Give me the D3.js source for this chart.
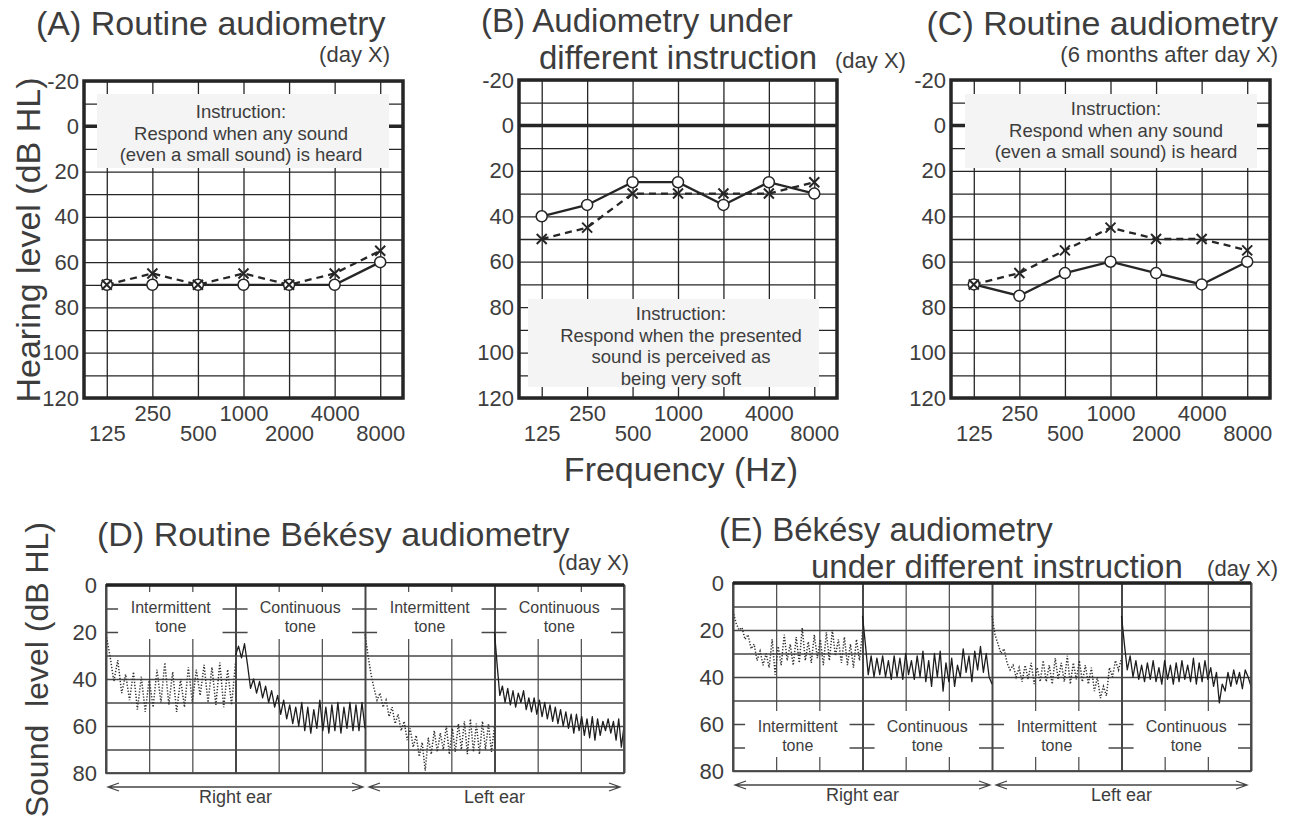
<!DOCTYPE html>
<html>
<head>
<meta charset="utf-8">
<script src="https://cdn.jsdelivr.net/npm/d3@7"></script>
<style>
  body { margin: 0; background: #fff; }
  svg { display: block; font-family: "Liberation Sans", Arial, Helvetica, sans-serif; }
</style>
</head>
<body>
<svg id="fig" width="1290" height="818"></svg>
<script>
// ---- audiogram data (dB HL) ----
const freqs = [125, 250, 500, 1000, 2000, 4000, 8000];
const freqRow1 = [250, 1000, 4000];
const freqRow2 = [125, 500, 2000, 8000];
const hlTicks = [-20, 0, 20, 40, 60, 80, 100, 120];
const hlGrid = [-20, -10, 0, 10, 20, 30, 40, 50, 60, 70, 80, 90, 100, 110, 120];

const aCircle = [70, 70, 70, 70, 70, 70, 60];
const aCross  = [70, 65, 70, 65, 70, 65, 55];
const bCircle = [40, 35, 25, 25, 35, 25, 30];
const bCross  = [50, 45, 30, 30, 30, 30, 25];
const cCircle = [70, 75, 65, 60, 65, 70, 60];
const cCross  = [70, 65, 55, 45, 50, 50, 55];

const noteRoutine = ["Instruction:", "Respond when any sound", "(even a small sound) is heard"];
const noteSoft = ["Instruction:", "Respond when the presented", "sound is perceived as", "being very soft"];

// ---- Bekesy tracings (dB HL), each spread over one 3-column segment ----
const splTicks = [0, 20, 40, 60, 80];
const splGrid = [0, 10, 20, 30, 40, 50, 60, 70, 80];
const columns = [0, 1, 2, 3, 4, 5, 6, 7, 8, 9, 10, 11, 12];
const segLabels = [["Intermittent", "tone"], ["Continuous", "tone"], ["Intermittent", "tone"], ["Continuous", "tone"]];
const segKinds = ["int", "cont", "int", "cont"];

const dRightInt = [21, 30, 41, 32, 46, 38, 49, 37, 53, 39, 54, 40, 52, 36, 50, 33, 51, 37, 54, 40, 52, 35,
  50, 36, 47, 34, 50, 35, 51, 33, 52, 36, 51, 33];
const dRightCont = [30, 26, 31, 25, 34, 44, 40, 46, 41, 48, 43, 50, 45, 52, 47, 55, 49, 57, 51, 59, 52, 60,
  50, 62, 52, 63, 53, 61, 49, 62, 52, 63, 51, 62, 50, 63, 52, 61, 50, 62, 51, 62, 50, 61];
const dLeftInt = [21, 30, 38, 44, 49, 46, 52, 49, 56, 52, 59, 55, 62, 58, 66, 61, 69, 64, 73, 67, 79, 65,
  72, 62, 71, 63, 70, 60, 72, 61, 71, 59, 70, 58, 72, 57, 71, 59, 72, 58, 70, 59, 71, 60];
const dLeftCont = [20, 34, 47, 43, 50, 44, 51, 45, 52, 46, 50, 45, 53, 48, 54, 48, 55, 49, 56, 50, 57, 51,
  58, 52, 59, 53, 60, 54, 61, 55, 63, 55, 62, 56, 64, 57, 65, 56, 66, 57, 64, 58, 62, 57, 63, 58, 66, 57, 69, 60];

const eRightInt = [12, 17, 20, 19, 24, 22, 28, 26, 33, 29, 35, 30, 36, 24, 39, 27, 35, 22, 33, 26, 35, 23,
  34, 19, 33, 25, 34, 22, 32, 24, 35, 21, 33, 20, 31, 24, 34, 23, 35, 26, 36, 24, 33, 21];
const eRightCont = [14, 26, 39, 31, 40, 32, 39, 31, 40, 33, 41, 31, 40, 32, 41, 30, 39, 33, 41, 31, 40, 29,
  42, 33, 44, 30, 40, 29, 46, 34, 42, 32, 44, 35, 40, 28, 38, 31, 42, 29, 37, 27, 38, 30, 40, 43];
const eLeftInt = [14, 22, 26, 30, 28, 34, 37, 35, 40, 36, 42, 35, 41, 34, 43, 36, 42, 33, 42, 35, 43, 32,
  41, 34, 42, 31, 43, 34, 41, 33, 42, 35, 43, 36, 46, 40, 49, 44, 48, 36, 40, 33, 37, 32];
const eLeftCont = [14, 26, 37, 31, 40, 33, 41, 35, 42, 34, 41, 33, 42, 36, 43, 33, 41, 35, 43, 34, 42, 33,
  41, 35, 42, 32, 43, 34, 42, 33, 41, 36, 44, 38, 51, 43, 46, 38, 44, 37, 43, 38, 45, 37, 40, 44];

const svg = d3.select("#fig");
const ink = "#262626";
const txt = "#3d3d3d";

const plainAxis = (sel) => {
  sel.select(".domain").remove();
  sel.attr("font-family", null).attr("font-size", null);
};

const drawAudiogram = (p) => {
  const w = p.right - p.left;
  const h = p.bottom - p.top;
  const x = d3.scalePoint().domain(freqs).range([p.left, p.right]).padding(0.5);
  const y = d3.scaleLinear().domain([-20, 120]).range([p.top, p.bottom]);
  const g = svg.append("g");

  // grid
  g.append("g")
    .attr("transform", `translate(${p.left},0)`)
    .call(d3.axisLeft(y).tickValues(hlGrid).tickSize(-w).tickFormat(""))
    .call(plainAxis)
    .selectAll("line").attr("stroke", ink).attr("stroke-width", 1.3);

  g.append("g")
    .attr("transform", `translate(0,${p.bottom})`)
    .call(d3.axisBottom(x).tickSize(-h).tickFormat(""))
    .call(plainAxis)
    .selectAll("line").attr("stroke", ink).attr("stroke-width", 1.3);

  // 0 dB reference line
  g.append("line")
    .attr("x1", p.left).attr("x2", p.right)
    .attr("y1", y(0)).attr("y2", y(0))
    .attr("stroke", ink).attr("stroke-width", 3.5);

  // instruction box
  const nb = p.noteBox;
  g.append("rect")
    .attr("x", nb[0]).attr("y", nb[1])
    .attr("width", nb[2] - nb[0]).attr("height", nb[3] - nb[1])
    .attr("fill", "#f4f4f4");
  g.append("g").selectAll("text")
    .data(p.note)
    .join("text")
    .attr("x", p.noteX)
    .attr("y", (d, i) => p.noteY + i * 21.5)
    .attr("text-anchor", "middle")
    .attr("font-size", 18.5)
    .attr("fill", txt)
    .text(d => d);

  // series
  const line = d3.line().x((d, i) => x(freqs[i])).y(d => y(d));
  g.append("path").datum(p.cross)
    .attr("fill", "none").attr("stroke", ink)
    .attr("stroke-width", 2.3).attr("stroke-dasharray", "7,5")
    .attr("d", line);
  g.append("path").datum(p.circle)
    .attr("fill", "none").attr("stroke", ink)
    .attr("stroke-width", 2.3)
    .attr("d", line);

  g.append("g").selectAll("circle")
    .data(p.circle)
    .join("circle")
    .attr("cx", (d, i) => x(freqs[i]))
    .attr("cy", d => y(d))
    .attr("r", 5.5)
    .attr("fill", "#fff").attr("stroke", ink).attr("stroke-width", 1.5);

  g.append("g").selectAll("path")
    .data(p.cross)
    .join("path")
    .attr("transform", (d, i) => `translate(${x(freqs[i])},${y(d)})`)
    .attr("d", "M-5,-5L5,5M-5,5L5,-5")
    .attr("stroke", ink).attr("stroke-width", 2);

  // frame
  g.append("rect")
    .attr("x", p.left).attr("y", p.top)
    .attr("width", w).attr("height", h)
    .attr("fill", "none").attr("stroke", ink).attr("stroke-width", 3.5);

  // tick labels
  g.append("g")
    .attr("transform", `translate(${p.left},0)`)
    .call(d3.axisLeft(y).tickValues(hlTicks).tickSize(0).tickPadding(5).tickFormat(d => String(d)))
    .call(plainAxis)
    .selectAll("text").attr("font-size", 22).attr("fill", txt);

  [[freqRow1, 7], [freqRow2, 27]].forEach(([vals, pad]) => {
    g.append("g")
      .attr("transform", `translate(0,${p.bottom})`)
      .call(d3.axisBottom(x).tickValues(vals).tickSize(0).tickPadding(pad).tickFormat(d => String(d)))
      .call(plainAxis)
      .selectAll("text").attr("font-size", 22).attr("fill", txt);
  });
};

const drawBekesy = (p) => {
  const w = p.right - p.left;
  const h = p.bottom - p.top;
  const x = d3.scaleLinear().domain([0, 12]).range([p.left, p.right]);
  const y = d3.scaleLinear().domain([0, 80]).range([p.top, p.bottom]);
  const g = svg.append("g");
  const gridInk = "#474747";

  // grid
  g.append("g")
    .attr("transform", `translate(${p.left},0)`)
    .call(d3.axisLeft(y).tickValues(splGrid).tickSize(-w).tickFormat(""))
    .call(plainAxis)
    .selectAll("line").attr("stroke", gridInk).attr("stroke-width", 1.4);

  g.append("g")
    .attr("transform", `translate(0,${p.bottom})`)
    .call(d3.axisBottom(x).tickValues(columns).tickSize(-h).tickFormat(""))
    .call(plainAxis)
    .selectAll("line")
    .attr("stroke", gridInk)
    .attr("stroke-width", d => (d % 3 === 0 ? 2 : 1.2));

  // segment label boxes
  const colW = x(1) - x(0);
  segLabels.forEach((lab, k) => {
    const x0 = x(k * 3) + 0.28 * colW;
    const x1 = x(k * 3 + 3) - 0.3 * colW;
    g.append("rect")
      .attr("x", x0).attr("y", p.labelTop)
      .attr("width", x1 - x0).attr("height", p.labelH)
      .attr("fill", "#fff");
    g.append("g").selectAll("text")
      .data(lab)
      .join("text")
      .attr("x", x(k * 3 + 1.5))
      .attr("y", (d, i) => p.labelBase + i * 18.5)
      .attr("text-anchor", "middle")
      .attr("font-size", 16)
      .attr("fill", txt)
      .text(d => d);
  });

  // tracings
  p.traces.forEach((vals, k) => {
    const pos = d3.scaleLinear().domain([0, vals.length - 1]).range([k * 3, k * 3 + 3]);
    const line = d3.line().x((d, i) => x(pos(i))).y(d => y(d));
    const path = g.append("path").datum(vals)
      .attr("fill", "none")
      .attr("d", line);
    if (segKinds[k] === "int") {
      path.attr("stroke", "#333").attr("stroke-width", 1.5).attr("stroke-dasharray", "1.3,1.7");
    } else {
      path.attr("stroke", "#1e1e1e").attr("stroke-width", 1.3).attr("stroke-linejoin", "round");
    }
  });

  // frame
  g.append("rect")
    .attr("x", p.left).attr("y", p.top)
    .attr("width", w).attr("height", h)
    .attr("fill", "none").attr("stroke", gridInk).attr("stroke-width", 1.8);
  g.append("line")
    .attr("x1", p.left).attr("x2", p.right)
    .attr("y1", y(0)).attr("y2", y(0))
    .attr("stroke", "#222").attr("stroke-width", 3.5);

  // tick labels
  g.append("g")
    .attr("transform", `translate(${p.left},0)`)
    .call(d3.axisLeft(y).tickValues(splTicks).tickSize(0).tickPadding(9).tickFormat(d => String(d)))
    .call(plainAxis)
    .selectAll("text").attr("font-size", 22).attr("fill", txt);

  // ear arrows
  const ay = p.bottom + 14;
  [[x(0) + 2, x(6) - 2, "Right ear"], [x(6) + 4, x(12) - 4, "Left ear"]].forEach(([a, b, name]) => {
    g.append("path")
      .attr("d", `M${a},${ay}H${b}M${a + 11},${ay - 4}L${a},${ay}L${a + 11},${ay + 4}M${b - 11},${ay - 4}L${b},${ay}L${b - 11},${ay + 4}`)
      .attr("fill", "none").attr("stroke", "#444").attr("stroke-width", 1.3);
    g.append("text")
      .attr("x", (a + b) / 2)
      .attr("y", ay + 16)
      .attr("text-anchor", "middle")
      .attr("font-size", 18)
      .attr("fill", txt)
      .text(name);
  });
};

// ---- panels ----
drawAudiogram({ left: 84, right: 403, top: 81, bottom: 398, circle: aCircle, cross: aCross,
  note: noteRoutine, noteBox: [97, 94, 389, 168], noteX: 241, noteY: 118 });
drawAudiogram({ left: 519, right: 837, top: 80, bottom: 398, circle: bCircle, cross: bCross,
  note: noteSoft, noteBox: [528, 299, 819, 387], noteX: 681, noteY: 320 });
drawAudiogram({ left: 951, right: 1270, top: 80, bottom: 398, circle: cCircle, cross: cCross,
  note: noteRoutine, noteBox: [965, 94, 1257, 168], noteX: 1116, noteY: 115 });

drawBekesy({ left: 106, right: 624, top: 585, bottom: 773,
  traces: [dRightInt, dRightCont, dLeftInt, dLeftCont],
  labelTop: 592, labelH: 47, labelBase: 613 });
drawBekesy({ left: 733, right: 1251, top: 583, bottom: 771,
  traces: [eRightInt, eRightCont, eLeftInt, eLeftCont],
  labelTop: 711, labelH: 46, labelBase: 732 });

// ---- titles and axis titles ----
const addText = (str, x, y, size, anchor) =>
  svg.append("text")
    .attr("x", x).attr("y", y)
    .attr("font-size", size)
    .attr("text-anchor", anchor || "start")
    .attr("fill", txt)
    .style("white-space", "pre")
    .text(str);

addText("(A) Routine audiometry", 36, 35, 34);
addText("(day X)", 390, 62, 22, "end");
addText("(B) Audiometry under", 481, 32, 33);
addText("different instruction", 539, 69, 33);
addText("(day X)", 835, 68, 22);
addText("(C) Routine audiometry", 1278, 35, 34, "end");
addText("(6 months after day X)", 1278, 62, 22, "end");
addText("Frequency (Hz)", 681, 481, 34, "middle");

addText("(D) Routine Békésy audiometry", 97, 546, 34);
addText("(day X)", 629, 570, 22, "end");
addText("(E) Békésy audiometry", 719, 541, 33);
addText("under different instruction", 811, 578, 33);
addText("(day X)", 1278, 576, 22, "end");

svg.append("text")
  .attr("transform", "translate(40,240) rotate(-90)")
  .attr("text-anchor", "middle")
  .attr("font-size", 34)
  .attr("fill", txt)
  .text("Hearing level (dB HL)");

svg.append("text")
  .attr("transform", "translate(48,522) rotate(-90)")
  .attr("text-anchor", "end")
  .attr("font-size", 32)
  .attr("fill", txt)
  .style("white-space", "pre")
  .text("Sound  level (dB HL)");
</script>
</body>
</html>
